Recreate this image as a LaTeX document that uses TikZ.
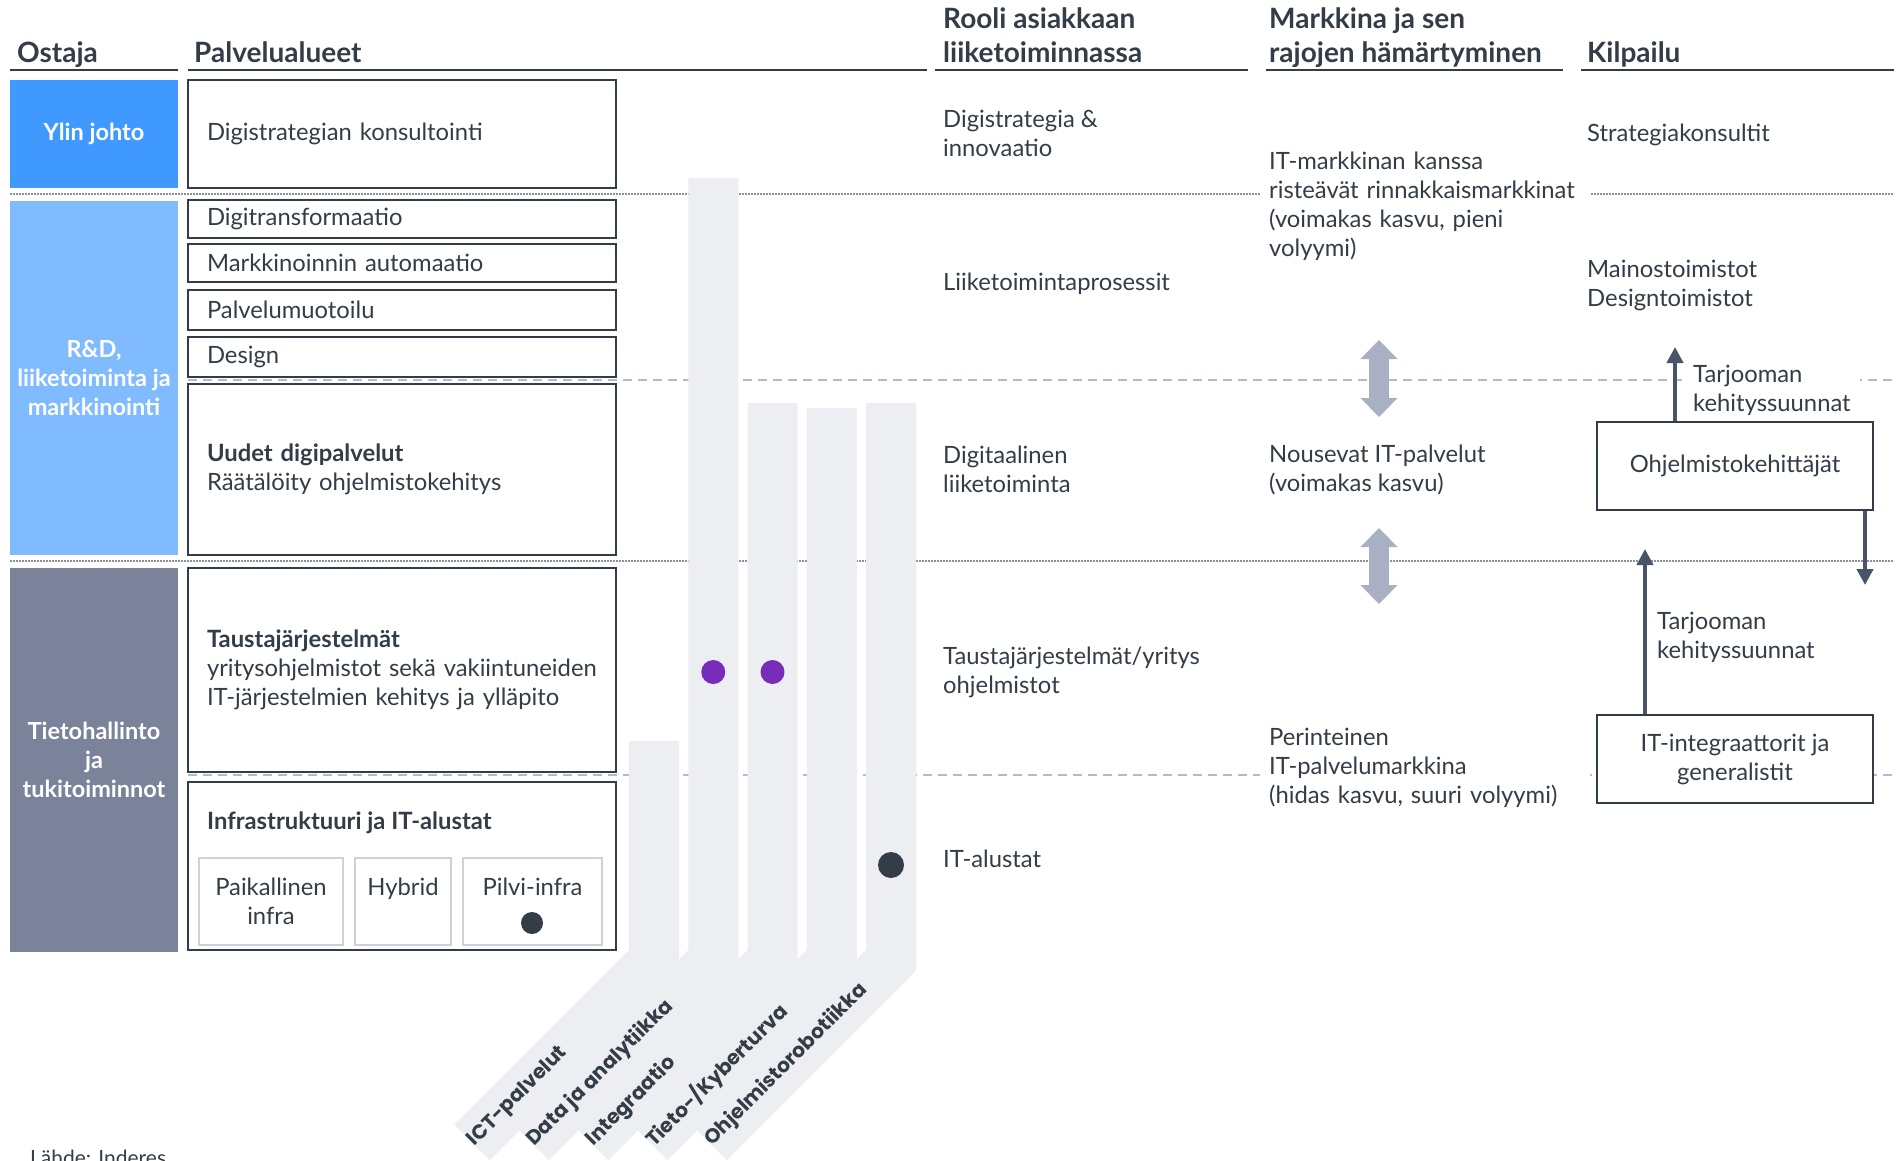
\documentclass[tikz,border=0pt]{standalone}
\usepackage{fontspec}
\setmainfont{Lato}
\newfontfamily\bandfont{Poppins}
\usetikzlibrary{arrows.meta}
\definecolor{ink}{HTML}{333D47}
\definecolor{topblue}{HTML}{4099FF}
\definecolor{midblue}{HTML}{80BBFF}
\definecolor{itgray}{HTML}{7A8399}
\definecolor{bargray}{HTML}{EDEEF2}
\definecolor{subgray}{HTML}{CDD1DA}
\definecolor{dotpurple}{HTML}{772DB9}
\definecolor{fatgray}{HTML}{A9B0C4}
\definecolor{arrowink}{HTML}{4A5468}
\definecolor{dashcol}{HTML}{B3B9D1}
\definecolor{dotcol}{HTML}{8A90A0}
\begin{document}
\begin{tikzpicture}[x=1pt, y=-1pt,
    header/.style ={anchor=south west, inner sep=0pt, text depth=6pt, align=left, text=ink, font=\bfseries\fontsize{28}{34}\selectfont},
    buyer/.style ={inner sep=0pt, minimum width=168pt, text=white, align=center, font=\bfseries\fontsize{23.5}{29}\selectfont},
    area/.style ={draw=ink, line width=2.5pt, fill=white, inner xsep=19pt, inner ysep=0pt, text width=390pt, align=left, text=ink, font=\fontsize{23.8}{29}\selectfont},
    subarea/.style ={draw=subgray, line width=2pt, fill=white, inner sep=0pt, minimum height=87pt, align=center, text=ink, font=\fontsize{23.8}{29}\selectfont},
    note/.style ={anchor=west, inner sep=0pt, align=left, text=ink, font=\fontsize{23.8}{29}\selectfont},
    cutnote/.style ={note, fill=white, inner xsep=9pt, inner ysep=3pt},
    player/.style ={draw=ink, line width=2.5pt, fill=white, minimum width=276pt, minimum height=88pt, align=center, text=ink, font=\fontsize{23.8}{29}\selectfont},
    band/.style ={draw=bargray, line width=50pt, line join=miter},
    bandlabel/.style ={anchor=west, rotate=45, inner sep=0pt, text=ink, font=\bandfont\bfseries\fontsize{20.2}{20}\selectfont},
    spot/.style ={circle, inner sep=0pt, minimum size=24pt},
    rule/.style ={draw=ink, line width=2pt},
    dotline/.style ={draw=dotcol, line width=1.5pt, dash pattern=on 1.5pt off 1.5pt},
    dashline/.style ={draw=dashcol, line width=2pt, dash pattern=on 9pt off 6pt},
    fatarrow/.style ={draw=fatgray, line width=20pt, {Triangle[width=36pt,length=19pt]}-{Triangle[width=36pt,length=19pt]}},
    devarrow/.style ={draw=arrowink, line width=4.5pt, -{Triangle[width=16pt,length=16pt]}}]
   \useasboundingbox (0,0) rectangle (1900,1160);
   \clip (0,0) rectangle (1900,1160);
   \fill[white] (0,0) rectangle (1900,1160);

   \node[header] (hOstaja) at (17,69) {Ostaja};
   \node[header] (hPalvelu) at (194,69) {Palvelualueet};
   \node[header] (hRooli) at (943,69) {Rooli asiakkaan\\liiketoiminnassa};
   \node[header] (hMarkkina) at (1269,69) {Markkina ja sen\\rajojen hämärtyminen};
   \node[header] (hKilpailu) at (1587,69) {Kilpailu};
   \draw[rule] (10,70) -- (178,70);
   \draw[rule] (188,70) -- (927,70);
   \draw[rule] (935,70) -- (1248,70);
   \draw[rule] (1266,70) -- (1563,70);
   \draw[rule] (1581,70) -- (1894,70);

   \draw[dotline] (10,194) -- (1894,194);
   \draw[dashline] (188,380) -- (1894,380);
   \draw[dotline] (10,561) -- (1894,561);
   \draw[dashline] (188,775) -- (1894,775);

   \foreach \xc/\ytop in {654/741, 713.25/178, 772.5/403, 831.75/408, 891/403}
     \draw[band] (\xc,\ytop) -- (\xc,960.4) -- ++(-182,182);
   \node[bandlabel] (ict) at (471.4,1143) {ICT-palvelut};
   \node[bandlabel] (data) at (530.6,1143) {Data ja analytiikka};
   \node[bandlabel] (integ) at (589.9,1143) {Integraatio};
   \node[bandlabel] (kyber) at (649.1,1143) {Tieto-/Kyberturva};
   \node[bandlabel] (robo) at (708.4,1143) {Ohjelmistorobotiikka};
   \node[spot, fill=dotpurple] (dataDot) at (713.25,672) {};
   \node[spot, fill=dotpurple] (integDot) at (772.5,672) {};
   \node[spot, fill=ink, minimum size=26pt] (roboDot) at (891,865) {};

   \node[buyer, fill=topblue, minimum height=108pt] (ylin) at (94,134) {Ylin johto};
   \node[buyer, fill=midblue, minimum height=354pt] (rnd) at (94,378) {R\&D,\\liiketoiminta ja\\markkinointi};
   \node[buyer, fill=itgray, minimum height=384pt] (tieto) at (94,760) {Tietohallinto\\ja\\tukitoiminnot};

   \node[area, minimum height=108pt] (konsult) at (402,134) {Digistrategian konsultointi};
   \node[area, minimum height=38pt] (transf) at (402,219) {Digitransformaatio};
   \node[area, minimum height=38pt] (automaatio) at (402,263) {Markkinoinnin automaatio};
   \node[area, minimum height=40pt] (muotoilu) at (402,310) {Palvelumuotoilu};
   \node[area, minimum height=40pt] (design) at (402,357) {Design};
   \node[area, minimum height=171pt] (uudet) at (402,469.5) {\textbf{Uudet digipalvelut}\\Räätälöity ohjelmistokehitys};
   \node[area, minimum height=204pt] (tausta) at (402,670) {\textbf{Taustajärjestelmät}\\yritysohjelmistot sekä vakiintuneiden\\IT-järjestelmien kehitys ja ylläpito};
   \node[area, minimum height=168pt] (infra) at (402,866) {};
   \node[note] (infraTitle) at (207,823) {\textbf{Infrastruktuuri ja IT-alustat}};
   \node[subarea, minimum width=144pt] (paikallinen) at (271,901.5) {Paikallinen\\infra};
   \node[subarea, minimum width=96pt] (hybrid) at (403,901.5) {Hybrid\\\phantom{x}};
   \node[subarea, minimum width=139pt] (pilvi) at (532.5,901.5) {Pilvi-infra\\\phantom{x}};
   \node[spot, fill=ink, minimum size=22pt] (pilviDot) at (532,923) {};

   \node[note] (r1) at (943,133.5) {Digistrategia \&\\innovaatio};
   \node[note] (r2) at (943,284) {Liiketoimintaprosessit};
   \node[note] (r3) at (943,469) {Digitaalinen\\liiketoiminta};
   \node[note] (r4) at (943,672) {Taustajärjestelmät/yritys\\ohjelmistot};
   \node[note] (r5) at (943,859) {IT-alustat};

   \node[cutnote, text width=312pt] (m1) at (1260,206) {IT-markkinan kanssa\\risteävät rinnakkaismarkkinat\\(voimakas kasvu, pieni\\volyymi)};
   \node[cutnote] (m2) at (1260,470) {Nousevat IT-palvelut\\(voimakas kasvu)};
   \node[cutnote, text width=312pt] (m3) at (1260,768) {Perinteinen\\IT-palvelumarkkina\\(hidas kasvu, suuri volyymi)};
   \coordinate (growA) at (1379,340);
   \coordinate (growB) at (1379,417);
   \coordinate (growC) at (1379,528);
   \coordinate (growD) at (1379,604);
   \draw[fatarrow] (growA) -- (growB);
   \draw[fatarrow] (growC) -- (growD);

   \node[note] (k1) at (1587,134.5) {Strategiakonsultit};
   \node[note] (k2) at (1587,285) {Mainostoimistot\\Designtoimistot};
   \node[cutnote] (tarj1) at (1684,390) {Tarjooman\\kehityssuunnat};
   \node[player] (ohj) at (1735,466) {Ohjelmistokehittäjät};
   \node[note] (tarj2) at (1657,637) {Tarjooman\\kehityssuunnat};
   \node[player] (itint) at (1735,759) {IT-integraattorit ja\\generalistit};
   \coordinate (upTip) at (1675,347);
   \coordinate (downTip) at (1865,585);
   \coordinate (lowTip) at (1645,549);
   \draw[devarrow] (ohj.north -| upTip) -- (upTip);
   \draw[devarrow] (ohj.south -| downTip) -- (downTip);
   \draw[devarrow] (itint.north -| lowTip) -- (lowTip);

   \node[anchor=base west, inner sep=0pt, text=ink, font=\fontsize{21}{24}\selectfont] (source) at (30,1165) {Lähde: Inderes};
\end{tikzpicture}
\end{document}
